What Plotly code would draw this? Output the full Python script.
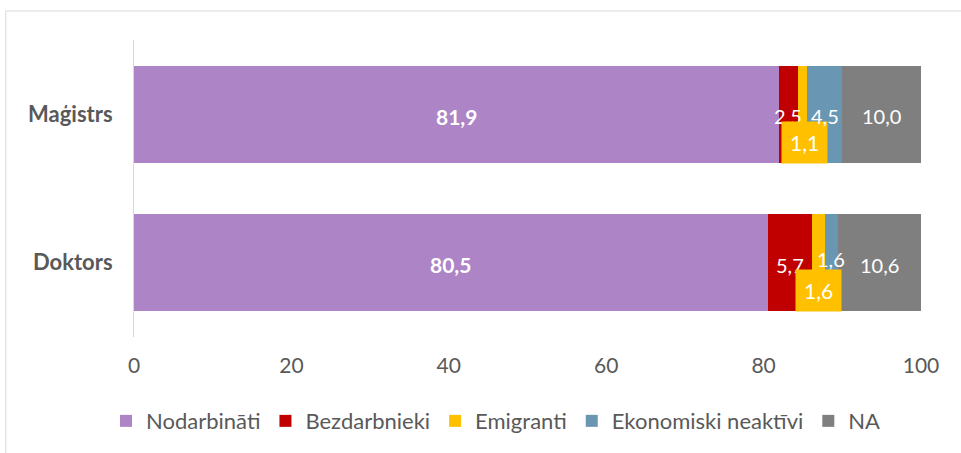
import plotly.graph_objects as go

categories = ["Maģistrs", "Doktors"]
series_names = ["Nodarbināti", "Bezdarbnieki", "Emigranti", "Ekonomiski neaktīvi", "NA"]
nodarbinati = [81.9, 80.5]
bezdarbnieki = [2.5, 5.7]
emigranti = [1.1, 1.6]
ekonomiski_neaktivi = [4.5, 1.6]
na_values = [10.0, 10.6]
x_ticks = [0, 20, 40, 60, 80, 100]

series_values = [nodarbinati, bezdarbnieki, emigranti, ekonomiski_neaktivi, na_values]
colors = ["#AD84C6", "#C00000", "#FFC000", "#6997B3", "#7F7F7F"]
FONT = "Lato, 'Open Sans', sans-serif"
GREY = "#595959"

fig = go.Figure()
for name, vals, col in zip(series_names, series_values, colors):
    fig.add_trace(go.Bar(
        y=categories, x=vals, name=name, orientation="h",
        marker=dict(color=col, line=dict(width=0)),
        hoverinfo="x+name",
    ))

def fmt(v):
    return f"{v:.1f}".replace(".", ",")

annotations = []
for ci, cat in enumerate(categories):
    cum = 0.0
    for si, vals in enumerate(series_values):
        v = vals[ci]
        center = cum + v / 2
        cum += v
        if si == 0:
            annotations.append(dict(x=center, y=cat, text=f"<b>{fmt(v)}</b>", showarrow=False,
                                    font=dict(family=FONT, size=21, color="white"), yshift=-2))
        elif si == 2:
            annotations.append(dict(x=center, y=cat, text=fmt(v), showarrow=False,
                                    font=dict(family=FONT, size=21, color="white"),
                                    bgcolor=colors[2], borderpad=8, yshift=-28,
                                    xshift=2 if ci == 0 else 0))
        else:
            ys = -2
            if si == 3 and ci == 1:
                ys = 4
            annotations.append(dict(x=center, y=cat, text=fmt(v), showarrow=False,
                                    font=dict(family=FONT, size=20, color="white"), yshift=ys))

fig.update_layout(
    width=961, height=453,
    margin=dict(l=134, r=40, t=40, b=116, autoexpand=False),
    paper_bgcolor="white", plot_bgcolor="white",
    barmode="stack", bargap=0.347,
    font=dict(family=FONT, color=GREY, size=20),
    showlegend=True,
    legend=dict(orientation="h", x=0.46, xanchor="center", y=-0.283, yanchor="middle",
                font=dict(family=FONT, size=22, color=GREY), traceorder="normal",
                itemclick=False),
    annotations=annotations,
    shapes=[dict(type="rect", xref="paper", yref="paper",
                 x0=-0.163, x1=1.06, y0=-0.45, y1=1.0976,
                 line=dict(color="#D9D9D9", width=1), fillcolor="rgba(0,0,0,0)", layer="below")],
)
fig.update_xaxes(range=[0, 100], tickvals=x_ticks, showgrid=False, zeroline=False,
                 showline=False, ticks="", ticklabelstandoff=14, automargin=False,
                 tickfont=dict(family=FONT, size=21, color=GREY), fixedrange=True)
fig.update_yaxes(autorange="reversed", showgrid=False, zeroline=False, showline=True,
                 linecolor="#D9D9D9", linewidth=1, ticks="", ticklabelstandoff=16,
                 automargin=False,
                 tickfont=dict(family=FONT, size=22, color=GREY),
                 tickprefix="<b>", ticksuffix="</b>", fixedrange=True)

fig.write_html("out.html", post_script="document.body.style.margin='0';",
               config={"displayModeBar": False})
